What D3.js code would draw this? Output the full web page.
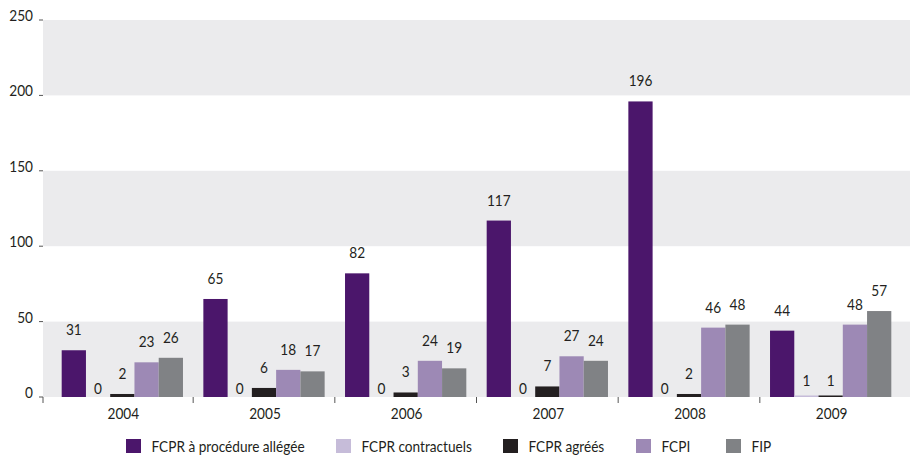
<!DOCTYPE html>
<html><head><meta charset="utf-8">
<script src="https://cdn.jsdelivr.net/npm/d3@7"></script>
<style>
body{margin:0;background:#fff;}
text{font-family:Lato,"Open Sans",sans-serif;fill:#231f20;}
</style></head>
<body>
<svg id="c" width="913" height="457"></svg>
<script>
const years = ["2004","2005","2006","2007","2008","2009"];
const seriesNames = ["FCPR à procédure allégée","FCPR contractuels","FCPR agréés","FCPI","FIP"];
const seriesColors = ["#4b166b","#c6bcd9","#231f20","#9d89b5","#808285"];
const fcprAllegee = [31,65,82,117,196,44];
const fcprContractuels = [0,0,0,0,0,1];
const fcprAgrees = [2,6,3,7,2,1];
const fcpi = [23,18,24,27,46,48];
const fip = [26,17,19,24,48,57];
const yTicks = [0,50,100,150,200,250];

const allSeries = [fcprAllegee,fcprContractuels,fcprAgrees,fcpi,fip];
const SX = 0.88, FS = 15.5;
const svg = d3.select("#c");
const left = 43, right = 910;
const y = d3.scaleLinear().domain([0,250]).range([397,20]);
const x0 = d3.scaleBand().domain(years).range([51.5,901.5]).padding(0);
const x1 = d3.scaleBand().domain(seriesNames).range([0,x0.bandwidth()]).paddingInner(0).paddingOuter(0.42);

function label(g, x, yy, txt, anchor){
  return g.append("text").attr("transform",`translate(${x},${yy}) scale(${SX},1)`)
    .attr("text-anchor",anchor||"start").attr("font-size",FS).text(txt);
}

// bands
const bands = [[0,50],[100,150],[200,250]];
svg.selectAll("rect.band").data(bands).enter().append("rect")
  .attr("x",left).attr("width",right-left)
  .attr("y",d=>y(d[1])).attr("height",d=>y(d[0])-y(d[1]))
  .attr("fill","#ebebed");

// y ticks
const yg = svg.append("g");
yTicks.forEach(t=>{
  yg.append("line").attr("x1",39).attr("x2",43).attr("y1",y(t)).attr("y2",y(t)).attr("stroke","#555").attr("stroke-width",1);
  label(yg,33,y(t)+1,t,"end");
});

// x ticks at boundaries
const bounds = [left].concat(years.slice(1).map(yr=>x0(yr)));
svg.selectAll("line.xt").data(bounds).enter().append("line")
  .attr("x1",d=>d).attr("x2",d=>d).attr("y1",397).attr("y2",403)
  .attr("stroke","#555").attr("stroke-width",1);
const xg = svg.append("g");
years.forEach(yr=>label(xg,x0(yr)+x0.bandwidth()/2+1,419,yr,"middle"));

// bars
const data = [];
years.forEach((yr,i)=>seriesNames.forEach((s,j)=>data.push({yr,s,j,v:allSeries[j][i]})));
svg.selectAll("rect.bar").data(data).enter().append("rect")
  .attr("x",d=>x0(d.yr)+x1(d.s)).attr("width",x1.bandwidth())
  .attr("y",d=>y(d.v)).attr("height",d=>y(0)-y(d.v))
  .attr("fill",d=>seriesColors[d.j]);
const vg = svg.append("g");
data.forEach(d=>label(vg,x0(d.yr)+x1(d.s)+x1.bandwidth()/2,
  y(d.v)-(d.v===0?3:(d.v===1?9:15)),d.v,"middle"));

// legend
const legX = [126,336,503,636,726];
seriesNames.forEach((s,i)=>{
  const g = svg.append("g").attr("transform",`translate(${legX[i]},439)`);
  g.append("rect").attr("width",15).attr("height",14).attr("fill",seriesColors[i]);
  label(g,25.5,13,s,"start");
});
</script>
</body></html>
